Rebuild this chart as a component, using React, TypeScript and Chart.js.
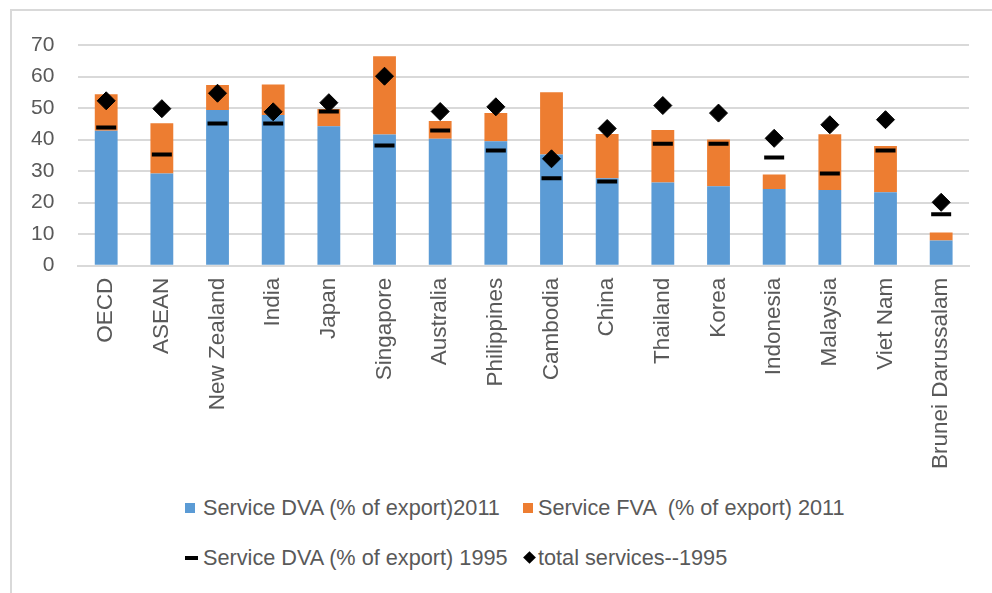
import React, { useEffect, useRef } from "react";
import { Chart, registerables } from "chart.js";

Chart.register(...registerables);

const categories = [
  "OECD", "ASEAN", "New Zealand", "India", "Japan", "Singapore", "Australia",
  "Philippines", "Cambodia", "China", "Thailand", "Korea", "Indonesia",
  "Malaysia", "Viet Nam", "Brunei Darussalam",
];
const dva2011 = [42.8, 29.2, 49.4, 47.8, 44.2, 41.6, 40.3, 39.5, 35.3, 27.7, 26.4, 25.2, 24.3, 24.0, 23.3, 8.0];
const fva2011 = [11.6, 16.0, 7.9, 9.7, 5.5, 24.8, 5.6, 8.9, 19.7, 14.1, 16.6, 14.8, 4.6, 17.7, 14.7, 2.5];
const dva1995 = [43.8, 35.3, 45.1, 45.1, 48.9, 38.1, 42.9, 36.5, 27.7, 26.7, 38.7, 38.7, 34.3, 29.2, 36.5, 16.3];
const total1995 = [52.3, 49.8, 54.7, 48.8, 51.7, 60.1, 48.9, 50.4, 33.9, 43.5, 50.8, 48.4, 40.4, 44.7, 46.3, 20.1];

const seriesNames = [
  "Service DVA (% of export)2011",
  "Service FVA  (% of export) 2011",
  "Service DVA (% of export) 1995",
  "total services--1995",
];

const BLUE = "#5B9BD5";
const ORANGE = "#ED7D31";
const TEXT = "#595959";
const GRID = "#D9D9D9";
const FONT = "'Liberation Sans', Arial, sans-serif";

export default function App() {
  const ref = useRef<HTMLCanvasElement | null>(null);

  useEffect(() => {
    document.body.style.margin = "0";
    const canvas = ref.current;
    if (!canvas) return;
    const chart = new Chart(canvas, {
      type: "bar",
      data: {
        labels: categories,
        datasets: [
          {
            type: "line",
            label: seriesNames[2],
            data: dva1995,
            showLine: false,
            pointStyle: "line",
            pointRadius: 10,
            pointBorderWidth: 4,
            borderColor: "#000",
            backgroundColor: "#000",
            stack: "s1995dva",
            order: 1,
          },
          {
            type: "line",
            label: seriesNames[3],
            data: total1995,
            showLine: false,
            pointStyle: "rectRot",
            pointRadius: 9,
            pointBorderWidth: 1,
            borderColor: "#000",
            backgroundColor: "#000",
            stack: "s1995tot",
            order: 0,
          },
          {
            label: seriesNames[0],
            data: dva2011,
            backgroundColor: BLUE,
            stack: "bars",
            order: 3,
            categoryPercentage: 1,
            barPercentage: 0.41,
          },
          {
            label: seriesNames[1],
            data: fva2011,
            backgroundColor: ORANGE,
            stack: "bars",
            order: 3,
            categoryPercentage: 1,
            barPercentage: 0.41,
          },
        ],
      },
      options: {
        responsive: false,
        animation: false,
        layout: { padding: { left: 7, right: 23, top: 45, bottom: 11 } },
        plugins: {
          legend: { display: false },
          tooltip: { enabled: false },
        },
        scales: {
          x: {
            stacked: true,
            grid: { display: false, drawTicks: false },
            border: { display: true, color: GRID, width: 2 },
            ticks: {
              autoSkip: false,
              minRotation: 90,
              maxRotation: 90,
              padding: 12,
              color: TEXT,
              font: { family: FONT, size: 22.5 },
            },
          },
          y: {
            stacked: true,
            min: 0,
            max: 70,
            grid: { color: GRID, lineWidth: 2, drawTicks: false },
            border: { display: false },
            ticks: {
              stepSize: 10,
              padding: 24,
              color: TEXT,
              font: { family: FONT, size: 21 },
            },
          },
        },
      },
    });
    return () => chart.destroy();
  }, []);

  const legendText: React.CSSProperties = {
    position: "absolute",
    fontFamily: FONT,
    fontSize: 21.7,
    color: TEXT,
    whiteSpace: "pre",
    lineHeight: "24px",
  };

  return (
    <div style={{ position: "relative", width: 992, height: 593, overflow: "hidden", background: "#fff" }}>
      <div
        style={{
          position: "absolute",
          left: 10,
          top: 9,
          width: 1100,
          height: 700,
          border: "2px solid #D9D9D9",
          boxSizing: "border-box",
        }}
      />
      <canvas ref={ref} width={992} height={492} style={{ position: "absolute", left: 0, top: 0 }} />
      {/* legend */}
      <div style={{ position: "absolute", left: 185, top: 503, width: 10, height: 10, background: BLUE }} />
      <div style={{ ...legendText, left: 203, top: 496 }}>{seriesNames[0]}</div>
      <div style={{ position: "absolute", left: 523, top: 503, width: 10, height: 10, background: ORANGE }} />
      <div style={{ ...legendText, left: 538, top: 496 }}>{seriesNames[1]}</div>
      <div style={{ position: "absolute", left: 185, top: 556, width: 13, height: 4, background: "#000" }} />
      <div style={{ ...legendText, left: 203, top: 546 }}>{seriesNames[2]}</div>
      <div
        style={{
          position: "absolute",
          left: 525,
          top: 553,
          width: 9,
          height: 9,
          background: "#000",
          transform: "rotate(45deg)",
        }}
      />
      <div style={{ ...legendText, left: 538, top: 546 }}>{seriesNames[3]}</div>
    </div>
  );
}
